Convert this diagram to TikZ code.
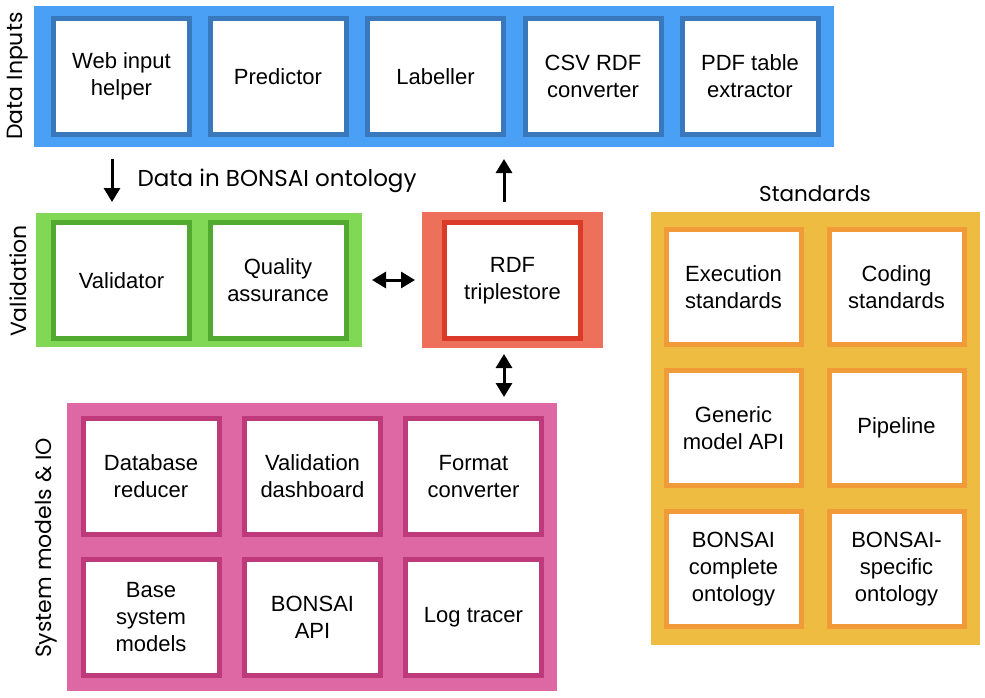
\documentclass[tikz,border=0pt]{standalone}
\usepackage{fontspec}
\setmainfont{Liberation Sans}
\newfontfamily\labelfont{Poppins}
\usetikzlibrary{arrows.meta,positioning}
\definecolor{inblue}{RGB}{74,160,245}
\definecolor{inedge}{RGB}{58,120,190}
\definecolor{valgreen}{RGB}{128,216,85}
\definecolor{valedge}{RGB}{82,170,48}
\definecolor{rdfred}{RGB}{236,112,90}
\definecolor{rdfedge}{RGB}{220,58,40}
\definecolor{syspink}{RGB}{222,104,164}
\definecolor{sysedge}{RGB}{190,58,122}
\definecolor{stdyellow}{RGB}{238,188,64}
\definecolor{stdedge}{RGB}{240,154,56}
\begin{document}
\begin{tikzpicture}[x=1pt, y=-1pt,
	panel/.style={anchor=north west, inner sep=0pt, outer sep=0pt},
	box/.style={draw, line width=5pt, fill=white, minimum width=136pt, minimum height=116pt, inner sep=0pt, align=center, font=\fontsize{22}{27}\selectfont},
	arr/.style={line width=3pt, -{Triangle[length=14pt,width=16pt]}},
	dbl/.style={line width=3pt, {Triangle[length=14pt,width=16pt]}-{Triangle[length=14pt,width=16pt]}},
	side/.style={rotate=90, font=\labelfont\fontsize{22}{26}\selectfont}]
\useasboundingbox (0,0) rectangle (985,697);
%panels
\node[panel, fill=inblue, minimum width=800pt, minimum height=141pt] (inputs) at (34,6) {};
\node[panel, fill=valgreen, minimum width=326pt, minimum height=134pt] (validation) at (36,213) {};
\node[panel, fill=rdfred, minimum width=181pt, minimum height=136pt] (store) at (422,212) {};
\node[panel, fill=syspink, minimum width=490pt, minimum height=288pt] (models) at (67,403) {};
\node[panel, fill=stdyellow, minimum width=329pt, minimum height=433pt] (standards) at (651,212) {};
%boxes
\foreach \n/\t/\x in {web/{Web input\\helper}/121.5, pred/Predictor/278, lab/Labeller/435.5,
	csv/{CSV RDF\\converter}/593, pdf/{PDF table\\extractor}/750}
\node[box, draw=inedge] (\n) at (\x,76.5) {\t};
\foreach \n/\t/\x in {vdr/Validator/121.5, qa/{Quality\\assurance}/278}
\node[box, draw=valedge] (\n) at (\x,280.5) {\t};
\node[box, draw=rdfedge] (rdf) at (512.5,280.5) {RDF\\triplestore};
\foreach \n/\t/\x/\y in {dbr/{Database\\reducer}/151/476.5, dash/{Validation\\dashboard}/312.5/476.5,
	fmt/{Format\\converter}/473.5/476.5, base/{Base\\system\\models}/151/617,
	api/{BONSAI\\API}/312.5/617, log/{Log tracer}/473.5/617}
\node[box, draw=sysedge] (\n) at (\x,\y) {\t};
\foreach \n/\t/\x/\y in {exe/{Execution\\standards}/733.5/287, cod/{Coding\\standards}/896.5/287,
	gen/{Generic\\model API}/733.5/428, pipe/Pipeline/896.5/428,
	comp/{BONSAI\\complete\\ontology}/733.5/569, spec/{BONSAI-\\specific\\ontology}/896.5/569}
\node[box, draw=stdedge, minimum width=135pt, minimum height=115pt] (\n) at (\x,\y) {\t};
%arrows
\coordinate (dn) at (112,0);
\coordinate (upx) at (504,0);
\draw[arr, shorten <=12pt, shorten >=11pt] (inputs.south -| dn) -- (validation.north -| dn);
\draw[arr, shorten <=10pt, shorten >=12pt] (store.north -| upx) -- (inputs.south -| upx);
\draw[dbl, shorten <=10pt, shorten >=7pt] (validation.east) -- (store.west);
\draw[dbl, shorten <=6pt, shorten >=6pt] (store.south -| upx) -- (models.north -| upx);
%labels
\node[font=\labelfont\fontsize{23}{26}\selectfont, anchor=west] (ontology) at (134,181) {Data in BONSAI ontology};
\node[font=\labelfont\fontsize{21.5}{26}\selectfont] (stdlabel) at (815,194) {Standards};
\node[side] (inlabel) at (18,76) {Data Inputs};
\node[side] (vallabel) at (18,281) {Validation};
\node[side] (syslabel) at (46,548) {System models \& IO};
\end{tikzpicture}
\end{document}
